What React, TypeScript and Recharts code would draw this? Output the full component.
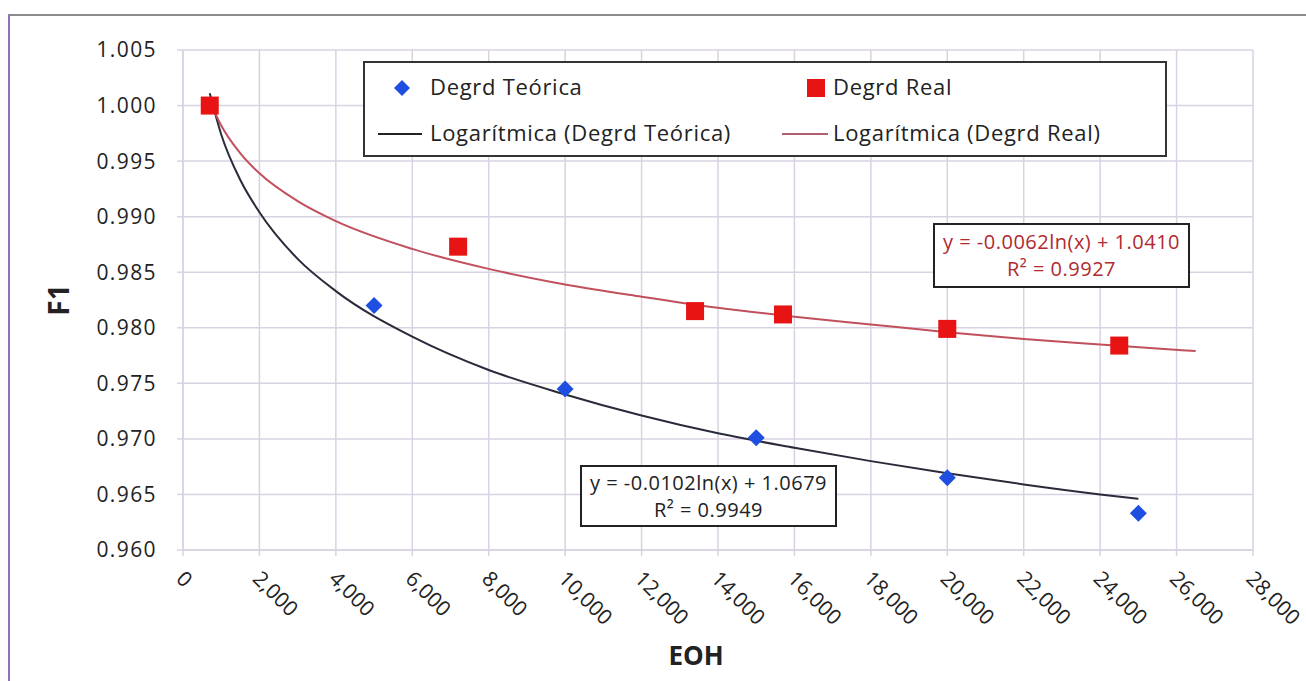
import { ComposedChart, Line, Scatter, XAxis, YAxis, CartesianGrid } from "recharts";

const teoricaEOH = [700, 5000, 10000, 15000, 20000, 25000];
const teoricaF1 = [1.0, 0.982, 0.9745, 0.9701, 0.9665, 0.9633];
const realEOH = [700, 7200, 13400, 15700, 20000, 24500];
const realF1 = [1.0, 0.9873, 0.9815, 0.9812, 0.9799, 0.9784];

// trend curves
const teoricaTrendEOH = [700, 1000, 1500, 2000, 3000, 4000, 6000, 8000, 10000, 12000, 14000, 16000, 18000, 20000, 22000, 24000, 25000];
const teoricaTrendF1 = [1.0011, 0.9974, 0.9933, 0.9904, 0.9862, 0.9833, 0.9792, 0.9762, 0.974, 0.9721, 0.9705, 0.9692, 0.968, 0.9669, 0.9659, 0.965, 0.9646];
const realTrendEOH = [700, 1000, 1500, 2000, 3000, 4000, 6000, 8000, 10000, 12000, 14000, 16000, 18000, 20000, 22000, 24000, 26500];
const realTrendF1 = [1.0004, 0.9982, 0.9957, 0.9939, 0.9914, 0.9896, 0.9871, 0.9853, 0.9839, 0.9828, 0.9818, 0.981, 0.9803, 0.9796, 0.979, 0.9785, 0.9779];

const xTicks = [0, 2000, 4000, 6000, 8000, 10000, 12000, 14000, 16000, 18000, 20000, 22000, 24000, 26000, 28000];
const yTicks = [0.96, 0.965, 0.97, 0.975, 0.98, 0.985, 0.99, 0.995, 1.0, 1.005];

const zip = (xs: number[], ys: number[]) => xs.map((x, i) => ({ x, y: ys[i] }));
const teoricaData = zip(teoricaEOH, teoricaF1);
const realData = zip(realEOH, realF1);
const teoricaTrend = zip(teoricaTrendEOH, teoricaTrendF1);
const realTrend = zip(realTrendEOH, realTrendF1);

const FONT = "'Open Sans', Lato, sans-serif";
const GRID = "#d8d2e2";
const BLUE = "#1f4fe0";
const RED = "#e81414";

const Diamond = (p: any) => {
  const { cx, cy } = p;
  const r = 8.5;
  return <polygon points={`${cx},${cy - r} ${cx + r},${cy} ${cx},${cy + r} ${cx - r},${cy}`} fill={BLUE} />;
};

const Square = (p: any) => {
  const { cx, cy } = p;
  return <rect x={cx - 9} y={cy - 9} width={18} height={18} fill={RED} />;
};

const XTick = (p: any) => {
  const { x, y, payload } = p;
  const tx = x - 8;
  const ty = y + 22;
  return (
    <text x={tx} y={ty} transform={`rotate(45 ${tx} ${ty})`} fontSize={21} fontFamily={FONT} fill="#222" textAnchor="start">
      {Number(payload.value).toLocaleString("en-US")}
    </text>
  );
};

export default function App() {
  return (
    <div style={{ position: "absolute", left: 0, top: 0, width: 1306, height: 681, background: "#fff", fontFamily: FONT }}>
      <div style={{ position: "absolute", left: 8, top: 14, right: 0, bottom: 0, borderTop: "2px solid #8c8c8c", borderLeft: "2px solid #8a74b4" }} />
      <ComposedChart width={1306} height={681} margin={{ top: 50, right: 53, bottom: 0, left: 0 }}>
        <CartesianGrid stroke={GRID} strokeWidth={1.5} />
        <XAxis
          type="number"
          dataKey="x"
          domain={[0, 28000]}
          ticks={xTicks}
          height={131}
          tick={<XTick />}
          tickSize={6}
          axisLine={{ stroke: GRID, strokeWidth: 1.5 }}
          tickLine={{ stroke: GRID, strokeWidth: 1.5 }}
          label={{
            content: () => (
              <text x={696} y={665} textAnchor="middle" fontSize={26} fontWeight="bold" fontFamily={FONT} fill="#222">
                EOH
              </text>
            ),
          }}
        />
        <YAxis
          type="number"
          dataKey="y"
          domain={[0.96, 1.005]}
          ticks={yTicks}
          width={183}
          tickSize={6}
          tickMargin={20}
          tickFormatter={(v: number) => v.toFixed(3)}
          tick={{ fontSize: 21, fill: "#222", fontFamily: FONT, letterSpacing: 1.4 }}
          axisLine={{ stroke: GRID, strokeWidth: 1.5 }}
          tickLine={{ stroke: GRID, strokeWidth: 1.5 }}
          label={{
            content: () => (
              <text x={69} y={300} transform="rotate(-90 69 300)" textAnchor="middle" fontSize={28} fontWeight="bold" fontFamily={FONT} fill="#222">
                F1
              </text>
            ),
          }}
        />
        <Scatter data={teoricaData} dataKey="y" shape={Diamond} isAnimationActive={false} />
        <Scatter data={realData} dataKey="y" shape={Square} isAnimationActive={false} />
        <Line data={teoricaTrend} dataKey="y" type="monotone" stroke="#2a2a3a" strokeWidth={2} dot={false} isAnimationActive={false} />
        <Line data={realTrend} dataKey="y" type="monotone" stroke="#c2505c" strokeWidth={2} dot={false} isAnimationActive={false} />
      </ComposedChart>

      {/* legend */}
      <div style={{ position: "absolute", left: 363, top: 61, width: 800, height: 92, border: "2px solid #333", background: "#fff", fontSize: 22, letterSpacing: 0.7, color: "#222", lineHeight: "28px" }}>
        <svg style={{ position: "absolute", left: 28, top: 16 }} width={18} height={18}>
          <polygon points="9,1 17,9 9,17 1,9" fill={BLUE} />
        </svg>
        <span style={{ position: "absolute", left: 65, top: 9 }}>Degrd Teórica</span>
        <svg style={{ position: "absolute", left: 441, top: 15 }} width={20} height={20}>
          <rect x={1} y={1} width={18} height={18} fill={RED} />
        </svg>
        <span style={{ position: "absolute", left: 468, top: 9 }}>Degrd Real</span>
        <div style={{ position: "absolute", left: 13, top: 70, width: 44, height: 2, background: "#222" }} />
        <span style={{ position: "absolute", left: 65, top: 55 }}>Logarítmica (Degrd Teórica)</span>
        <div style={{ position: "absolute", left: 417, top: 70, width: 46, height: 2, background: "#b0606c" }} />
        <span style={{ position: "absolute", left: 468, top: 55 }}>Logarítmica (Degrd Real)</span>
      </div>

      {/* equation boxes */}
      <div style={{ position: "absolute", left: 933, top: 223, width: 253, height: 58, border: "2px solid #222", background: "#fff", color: "#b02a30", fontSize: 20, letterSpacing: 0.5, lineHeight: "27px", textAlign: "center", paddingTop: 3 }}>
        <div>y = -0.0062ln(x) + 1.0410</div>
        <div>R² = 0.9927</div>
      </div>
      <div style={{ position: "absolute", left: 580, top: 465, width: 253, height: 56, border: "2px solid #222", background: "#fff", color: "#222", fontSize: 20, letterSpacing: 0.5, lineHeight: "27px", textAlign: "center", paddingTop: 2 }}>
        <div>y = -0.0102ln(x) + 1.0679</div>
        <div>R² = 0.9949</div>
      </div>
    </div>
  );
}
